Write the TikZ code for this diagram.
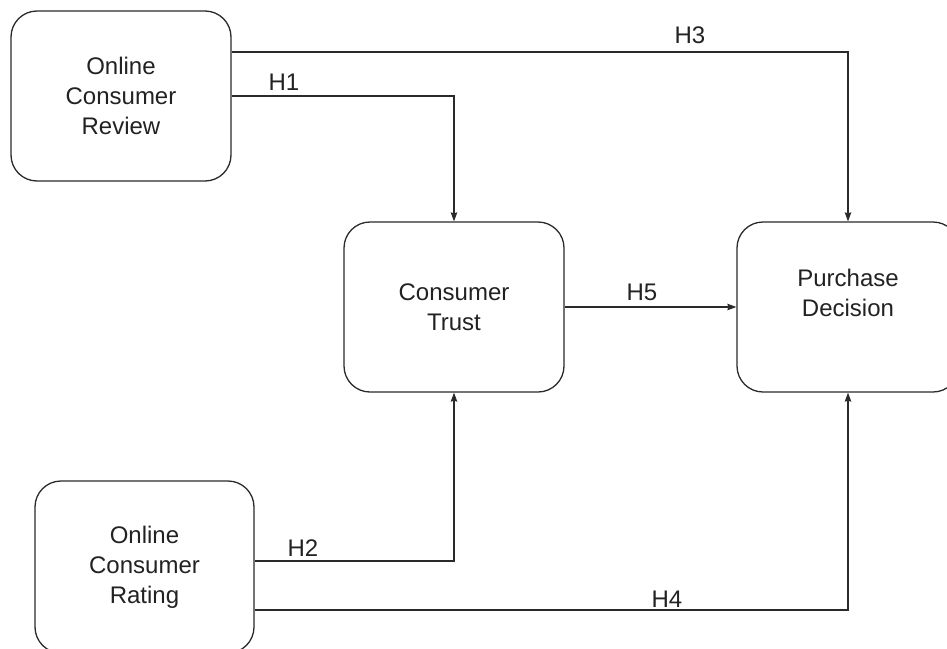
\documentclass[tikz,border=0pt]{standalone}
\usepackage{fontspec}
\setmainfont{Liberation Sans}
\usetikzlibrary{arrows.meta}
\definecolor{linec}{HTML}{2A2A2A}
\definecolor{textc}{HTML}{222222}
\tikzset{
  box/.style={draw=linec, line width=1.3pt, rounded corners=26pt, minimum width=220pt, minimum height=170pt, inner sep=0pt, align=center, text=textc, font=\fontsize{24}{30}\selectfont},
  conn/.style={draw=linec, line width=1.1pt, -{Stealth[length=9pt,width=6.5pt,inset=1pt]}},
  hlab/.style={anchor=base, text=textc, inner sep=0pt, font=\fontsize{24}{28}\selectfont}
}
\begin{document}
\begin{tikzpicture}[x=1pt,y=-1pt]
\useasboundingbox (0,0) rectangle (947,648);
\clip (0,0) rectangle (947,648);
\node[box] (review) at (121,96) {Online\\Consumer\\Review};
\node[box] (trust) at (454,307) {Consumer\\Trust};
\node[box, minimum width=222pt] (purchase) at (848,307) {};
\node[text=textc, align=center, inner sep=0pt, font=\fontsize{24}{30}\selectfont] (purchasetext) at (848,293) {Purchase\\Decision};
\node[box, minimum width=219pt, minimum height=172pt] (rating) at (144.5,567) {Online\\Consumer\\Rating};

\draw[conn] ([yshift=44pt]review.east) -| (purchase.north);
\draw[conn] (review.east) -| (trust.north);
\draw[conn] (trust.east) -- (purchase.west);
\draw[conn] ([yshift=6pt]rating.east) -| (trust.south);
\draw[conn] ([yshift=-43pt]rating.east) -| (purchase.south);

\node[hlab] (h3) at (690,43) {H3};
\node[hlab] (h1) at (284,90) {H1};
\node[hlab] (h5) at (642,300) {H5};
\node[hlab] (h2) at (303,556) {H2};
\node[hlab] (h4) at (667,607) {H4};
\end{tikzpicture}
\end{document}
